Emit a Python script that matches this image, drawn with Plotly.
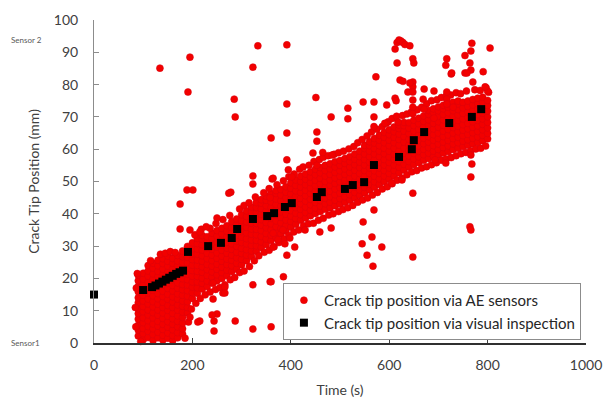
import plotly.graph_objects as go

# ---- Visual inspection (black squares) ----
VIS_T = [0, 100, 118, 125, 132, 139, 146, 153, 160, 167, 174, 181, 191, 232, 258, 280, 291,
         323, 352, 366, 388, 402, 453, 463, 510, 526, 549, 569, 620, 646, 650, 671, 722, 768, 787]
VIS_Y = [15.0, 16.4, 17.3, 17.8, 18.4, 19.0, 19.6, 20.2, 20.8, 21.4, 21.9, 22.4, 28.2, 30.0, 31.0,
         32.5, 35.3, 38.4, 39.3, 40.2, 42.1, 43.3, 45.2, 46.7, 47.7, 48.9, 49.8, 55.1, 57.6, 60.0,
         62.8, 65.3, 68.1, 70.0, 72.4]

# ---- AE sensor events: dense band, read column by column (time -> positions) ----
BAND_T = list(range(90, 801, 10))
BAND_Y = [
    [2.2, 4.0, 5.5, 7.4, 9.1, 10.6, 12.5, 14.0, 15.9, 17.5, 19.3, 21.0],
    [1.0, 2.9, 4.5, 6.3, 7.8, 9.7, 11.3, 13.0, 14.8, 16.2, 18.1, 19.8, 21.6],
    [1.7, 3.6, 5.1, 6.9, 8.7, 10.2, 12.1, 13.6, 15.5, 17.2, 18.8, 20.7, 22.3, 24.0],
    [0.8, 2.6, 4.4, 5.9, 7.8, 9.4, 11.2, 12.8, 14.6, 16.3, 17.9, 19.8, 21.4, 23.2, 24.7],
    [1.6, 3.3, 5.2, 6.7, 8.6, 10.2, 12.0, 13.7, 15.3, 17.1, 18.7, 20.6, 22.2, 23.9, 25.6],
    [0.9, 2.4, 4.2, 5.8, 7.6, 9.3, 11.0, 12.6, 14.4, 16.0, 17.9, 19.5, 21.3, 22.9, 24.6, 26.1],
    [1.5, 3.1, 4.9, 6.6, 8.3, 10.1, 11.6, 13.5, 15.1, 16.9, 18.5, 20.4, 22.0, 23.8, 25.3, 26.9],
    [0.8, 2.3, 4.1, 5.8, 7.5, 9.2, 11.0, 12.7, 14.3, 16.1, 17.8, 19.6, 21.2, 23.0, 24.7, 26.2],
    [1.6, 3.2, 5.0, 6.7, 8.4, 10.2, 11.8, 13.6, 15.2, 17.0, 18.6, 20.5, 22.1, 23.9, 25.4, 27.1],
    [2.8, 4.4, 6.2, 7.9, 9.6, 11.4, 13.0, 14.8, 16.5, 18.1, 19.9, 21.6, 23.4, 25.0, 26.7, 28.5],
    [9.3, 11.0, 12.8, 14.5, 16.2, 18.0, 19.6, 21.3, 23.1, 24.8, 26.5, 28.2, 29.9],
    [13.8, 15.6, 17.3, 18.9, 20.7, 22.4, 24.1, 25.8, 27.6, 29.2, 31.0],
    [15.4, 17.1, 18.9, 20.6, 22.2, 24.0, 25.7, 27.5, 29.1, 30.8, 32.4],
    [16.7, 18.5, 20.1, 21.9, 23.6, 25.3, 27.0, 28.8, 30.4, 32.1, 33.3],
    [17.5, 19.2, 20.9, 22.7, 24.3, 26.1, 27.8, 29.5, 31.2, 32.9],
    [18.6, 20.4, 22.0, 23.8, 25.5, 27.2, 29.0, 30.6, 32.4, 34.0],
    [19.3, 21.1, 22.8, 24.4, 26.2, 27.9, 29.7, 31.3, 33.1, 34.8],
    [20.0, 21.8, 23.5, 25.3, 26.9, 28.7, 30.4, 32.0, 33.8, 35.5],
    [20.9, 22.6, 24.3, 26.0, 27.8, 29.4, 31.2, 32.9, 34.6, 36.3],
    [22.1, 23.9, 25.6, 27.2, 29.0, 30.7, 32.5, 34.2, 35.8, 37.6],
    [22.9, 24.7, 26.4, 28.1, 29.9, 31.5, 33.3, 35.0, 36.7, 38.4],
    [24.2, 25.9, 27.7, 29.3, 31.1, 32.8, 34.5, 36.3, 37.9, 39.7],
    [25.5, 27.2, 28.9, 30.7, 32.3, 34.1, 35.8, 37.5, 39.2, 40.9],
    [26.8, 28.5, 30.2, 31.9, 33.7, 35.3, 37.1, 38.8, 40.5, 42.1],
    [28.4, 30.1, 31.8, 33.5, 35.2, 37.0, 38.6, 40.4, 42.0, 43.5],
    [29.6, 31.3, 33.0, 34.8, 36.5, 38.2, 39.9, 41.6, 43.3, 44.4],
    [30.5, 32.2, 33.9, 35.7, 37.3, 39.1, 40.8, 42.5, 44.2, 45.5],
    [31.7, 33.4, 35.1, 36.9, 38.6, 40.3, 42.0, 43.7, 45.4, 46.3],
    [32.6, 34.3, 36.0, 37.8, 39.5, 41.2, 42.9, 44.6, 46.3, 47.2],
    [33.8, 35.5, 37.2, 38.9, 40.6, 42.4, 44.1, 45.8, 47.5],
    [34.7, 36.4, 38.1, 39.9, 41.6, 43.3, 45.0, 46.7, 48.4],
    [35.9, 37.6, 39.3, 41.0, 42.8, 44.5, 46.2, 47.9, 49.6],
    [36.8, 38.5, 40.2, 41.9, 43.7, 45.4, 47.1, 48.8, 50.5],
    [38.0, 39.7, 41.4, 43.1, 44.8, 46.6, 48.3, 50.0, 51.6],
    [38.7, 40.4, 42.1, 43.9, 45.6, 47.3, 49.0, 50.7, 52.3],
    [39.4, 41.1, 42.8, 44.5, 46.3, 48.0, 49.7, 51.4, 53.0],
    [40.1, 41.8, 43.5, 45.2, 46.9, 48.7, 50.4, 52.1, 53.8],
    [40.7, 42.4, 44.1, 45.9, 47.6, 49.3, 51.0, 52.7, 54.3],
    [41.4, 43.1, 44.8, 46.5, 48.2, 50.0, 51.7, 53.4, 55.0],
    [41.9, 43.6, 45.3, 47.0, 48.8, 50.5, 52.2, 53.9, 55.5],
    [42.5, 44.2, 45.9, 47.7, 49.4, 51.1, 52.8, 54.5, 56.1],
    [43.0, 44.7, 46.4, 48.1, 49.9, 51.6, 53.3, 55.0, 56.5],
    [43.6, 45.3, 47.0, 48.7, 50.4, 52.2, 53.9, 55.6, 57.1],
    [44.2, 45.9, 47.6, 49.3, 51.0, 52.8, 54.5, 56.2, 57.7],
    [44.9, 46.6, 48.3, 50.0, 51.7, 53.5, 55.2, 56.9, 58.5],
    [45.7, 47.4, 49.1, 50.8, 52.5, 54.3, 56.0, 57.7, 59.4],
    [46.5, 48.2, 49.9, 51.6, 53.4, 55.1, 56.8, 58.5, 60.2, 61.2],
    [47.4, 49.1, 50.8, 52.5, 54.2, 56.0, 57.7, 59.4, 61.1, 62.3],
    [48.2, 49.9, 51.6, 53.3, 55.0, 56.8, 58.5, 60.2, 61.9, 63.3],
    [49.1, 50.8, 52.5, 54.2, 55.9, 57.7, 59.4, 61.1, 62.8, 64.3],
    [50.0, 51.7, 53.4, 55.1, 56.8, 58.6, 60.3, 62.0, 63.7, 65.2],
    [50.8, 52.5, 54.2, 55.9, 57.6, 59.4, 61.1, 62.8, 64.5, 66.0],
    [51.7, 53.4, 55.1, 56.8, 58.5, 60.3, 62.0, 63.7, 65.4, 66.9],
    [52.7, 54.4, 56.1, 57.8, 59.5, 61.3, 63.0, 64.7, 66.4, 67.5],
    [53.6, 55.3, 57.0, 58.7, 60.4, 62.2, 63.9, 65.6, 67.3, 68.3],
    [54.5, 56.2, 57.9, 59.6, 61.3, 63.1, 64.8, 66.5, 68.2],
    [55.3, 57.0, 58.7, 60.4, 62.1, 63.9, 65.6, 67.3, 69.0],
    [55.9, 57.6, 59.3, 61.0, 62.7, 64.5, 66.2, 67.9, 69.6],
    [56.6, 58.3, 60.0, 61.7, 63.4, 65.2, 66.9, 68.6, 70.3],
    [57.1, 58.8, 60.5, 62.2, 63.9, 65.7, 67.4, 69.1, 70.8, 72.0],
    [57.7, 59.4, 61.1, 62.8, 64.5, 66.3, 68.0, 69.7, 71.4, 72.5],
    [58.2, 59.9, 61.6, 63.3, 65.0, 66.8, 68.5, 70.2, 71.9, 73.1],
    [58.8, 60.5, 62.2, 63.9, 65.6, 67.4, 69.1, 70.8, 72.5, 73.6],
    [59.3, 61.0, 62.7, 64.4, 66.1, 67.9, 69.6, 71.3, 73.0, 74.1],
    [59.9, 61.6, 63.3, 65.0, 66.7, 68.5, 70.2, 71.9, 73.6, 74.5],
    [60.3, 62.0, 63.7, 65.4, 67.1, 68.9, 70.6, 72.3, 74.0, 74.9],
    [60.8, 62.5, 64.2, 65.9, 67.6, 69.4, 71.1, 72.8, 74.5],
    [61.2, 62.9, 64.6, 66.3, 68.0, 69.8, 71.5, 73.2, 74.9],
    [61.7, 63.4, 65.1, 66.8, 68.5, 70.3, 72.0, 73.7, 75.4],
    [62.1, 63.8, 65.5, 67.2, 68.9, 70.7, 72.4, 74.1, 75.8],
    [62.6, 64.3, 66.0, 67.7, 69.4, 71.2, 72.9, 74.6, 76.1],
    [63.2, 64.9, 66.6, 68.3, 70.0, 71.8, 73.5, 75.1],
]

# ---- AE sensor events: ragged fringe along the band edges ----
FRINGE_T = [205, 218, 236, 248, 262, 276, 296, 305, 315, 328, 345, 356, 372, 385, 396, 407, 418,
            425, 437, 447, 458, 466, 476, 488, 497, 507, 518, 528, 536, 545, 555, 564, 575, 586,
            598, 606, 615, 627, 636, 645, 657, 666, 676, 686, 697, 706, 716, 725, 736, 745, 757,
            774, 785, 802,
            95, 185, 192, 198, 207, 216, 226, 236, 247, 256, 266, 277, 286, 296, 305, 316, 326,
            335, 346, 356, 366, 376, 386, 396, 406, 416, 426, 436, 446, 456, 466, 477, 486, 497,
            506, 516, 526, 536, 546, 556, 566, 576, 586, 596, 606, 616, 626, 636, 646, 656, 666,
            676, 686, 696, 706, 716, 726, 736, 746, 756, 766, 776, 786, 796,
            85, 84, 86, 88, 115, 135, 145, 155, 165]
FRINGE_Y = [33.5, 35.2, 35.5, 37.0, 38.2, 39.5, 41.5, 42.6, 43.4, 45.2, 46.5, 47.8, 49.0, 50.2,
            51.5, 52.3, 53.8, 54.5, 55.0, 56.2, 56.8, 57.5, 58.0, 58.4, 58.9, 59.4, 60.1, 60.8,
            62.0, 63.0, 64.1, 65.3, 66.2, 67.0, 68.5, 69.5, 70.2, 70.4, 70.9, 71.5, 72.2, 73.0,
            74.1, 75.0, 75.3, 76.0, 76.5, 76.8, 77.5, 77.2, 78.0, 78.4, 78.2, 77.6,
            0.5, 1.5, 6.5, 10.5, 12.3, 13.8, 14.9, 15.8, 16.6, 17.2, 18.0, 19.6, 20.3, 21.8, 22.3,
            23.7, 25.5, 27.0, 28.1, 28.7, 29.8, 31.1, 32.2, 33.3, 34.4, 35.0, 36.3, 36.9, 37.1,
            38.0, 38.6, 39.6, 40.0, 40.7, 41.3, 41.9, 42.6, 43.6, 44.3, 44.9, 45.8, 46.6, 47.7,
            48.4, 49.3, 50.4, 51.0, 52.1, 53.0, 53.4, 54.2, 54.6, 55.2, 55.8, 56.6, 57.0, 57.4,
            58.0, 58.6, 59.0, 59.5, 60.1, 60.3, 61.0,
            5.0, 11.0, 17.0, 21.5, 25.5, 27.5, 27.8, 28.3, 28.0]

# ---- AE sensor events: scattered points away from the band ----
OUT_T = [134, 195, 191, 285, 287, 323, 333, 392, 392, 360, 392, 451, 482, 516, 516, 547, 569, 569,
         573, 595, 594, 612, 616, 616, 620, 624, 628, 632, 612, 642, 648, 650, 622, 628, 648, 638,
         648, 648, 648, 648, 648, 671, 669, 671, 691, 691, 717, 715, 726, 717, 717, 730, 768, 805,
         754, 766, 764, 766, 754, 791, 770, 797, 800, 727, 758, 795, 569, 591, 618, 614, 642, 717,
         453, 453, 445, 465, 484, 392, 395, 402, 362, 453, 323, 323, 364, 358, 278, 189, 201, 175,
         175, 195, 250, 228, 215, 274,
         429, 459, 482, 547, 565, 545, 398, 374, 384, 585, 555, 567, 648, 569, 408, 392, 388, 364,
         364, 385, 358, 648, 626, 605, 715, 693, 766, 768, 766, 764, 766, 242, 262, 287, 250, 244,
         244, 215, 323, 323, 360, 360, 242, 195, 211, 266, 266, 240]
OUT_Y = [85.1, 88.5, 77.7, 75.5, 70.0, 85.4, 92.0, 92.3, 74.0, 63.5, 65.0, 76.0, 70.0, 72.7, 69.4,
         74.6, 74.6, 70.0, 82.4, 73.7, 68.0, 75.8, 86.7, 93.0, 93.8, 93.5, 93.0, 92.4, 91.0, 92.0,
         88.0, 86.7, 81.4, 81.0, 80.8, 77.7, 79.3, 77.7, 75.2, 73.0, 71.0, 78.6, 75.5, 72.4, 78.0,
         69.6, 88.0, 86.0, 83.3, 77.7, 75.5, 73.0, 92.8, 91.3, 89.0, 90.4, 86.7, 84.5, 83.6, 84.0,
         80.8, 79.0, 78.0, 83.6, 83.6, 79.3, 67.0, 68.0, 68.4, 75.0, 80.5, 74.0, 65.3, 62.5, 58.8,
         59.0, 58.2, 56.7, 53.6, 51.4, 50.8, 55.0, 51.7, 49.2, 51.0, 45.0, 46.7, 47.4, 47.4, 43.0,
         35.3, 35.0, 38.7, 36.0, 34.4, 46.4,
         35.0, 34.4, 35.6, 37.5, 32.8, 30.7, 32.5, 32.0, 35.0, 29.7, 27.2, 23.8, 26.6, 41.2, 29.7,
         27.2, 30.7, 29.7, 34.0, 20.5, 19.0, 46.4, 50.5, 49.5, 55.7, 56.7, 58.2, 55.4, 51.4, 36.0,
         35.0, 13.6, 15.5, 6.8, 9.0, 6.8, 3.7, 6.8, 18.0, 4.3, 19.0, 5.0, 18.6, 8.0, 6.5, 17.3,
         15.5, 8.7]

X_TICKS = [0, 200, 400, 600, 800, 1000]
Y_TICKS = [0, 10, 20, 30, 40, 50, 60, 70, 80, 90, 100]

ae_t, ae_y = [], []
for t, col in zip(BAND_T, BAND_Y):
    for v in col:
        ae_t.append(t)
        ae_y.append(v)
ae_t += FRINGE_T + OUT_T
ae_y += FRINGE_Y + OUT_Y

FONT = "Lato, 'Open Sans', sans-serif"
TXT = "#404040"

fig = go.Figure()
fig.add_trace(go.Scatter(
    x=ae_t, y=ae_y, mode="markers", name="Crack tip position via AE sensors",
    marker=dict(size=7, color="#F20000", line=dict(width=0.5, color="#D8000C")),
    cliponaxis=False))
fig.add_trace(go.Scatter(
    x=VIS_T, y=VIS_Y, mode="markers", name="Crack tip position via visual inspection",
    marker=dict(size=8, symbol="square", color="#000000"),
    cliponaxis=False))

fig.update_layout(
    width=613, height=400,
    margin=dict(l=94, r=27, t=20, b=57),
    paper_bgcolor="white", plot_bgcolor="white",
    font=dict(family=FONT, size=14, color=TXT),
    showlegend=True,
    legend=dict(x=0.384, y=0.186, xanchor="left", yanchor="top",
                bgcolor="white", bordercolor="#8c8c8c", borderwidth=1,
                font=dict(family=FONT, size=15, color="#262626"),
                itemwidth=30, tracegroupgap=0),
    xaxis=dict(range=[0, 1000], tickvals=X_TICKS, ticks="inside", ticklen=5,
               tickcolor="#404040", showline=True, linecolor="#303030", linewidth=1.5,
               showgrid=False, zeroline=False, ticklabelstandoff=8, automargin=False,
               tickfont=dict(family=FONT, size=14, color=TXT),
               title=dict(text="Time (s)", standoff=14, font=dict(family=FONT, size=14, color=TXT))),
    yaxis=dict(range=[0, 100], tickvals=Y_TICKS, ticks="inside", ticklen=5,
               tickcolor="#8c8c8c", showline=True, linecolor="#8c8c8c", linewidth=1,
               showgrid=False, zeroline=False, ticklabelstandoff=12, automargin=False,
               tickfont=dict(family=FONT, size=14, color=TXT),
               title=dict(text="Crack Tip Position (mm)", standoff=10,
                          font=dict(family=FONT, size=14, color=TXT))),
)

fig.add_annotation(text="Sensor 2", xref="paper", yref="y", x=-0.172, y=93.8,
                   xanchor="left", yanchor="middle", showarrow=False,
                   font=dict(family=FONT, size=8, color="#595959"))
fig.add_annotation(text="Sensor1", xref="paper", yref="y", x=-0.172, y=0,
                   xanchor="left", yanchor="middle", showarrow=False,
                   font=dict(family=FONT, size=8, color="#595959"))

fig.write_html("out.html")
